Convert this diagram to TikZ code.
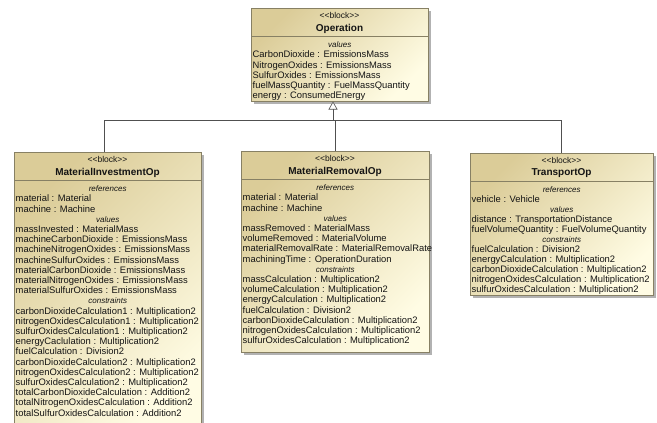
\documentclass[tikz,border=0pt]{standalone}
\usepackage{fontspec}
\setmainfont{Liberation Sans}
\usetikzlibrary{arrows.meta,shadows}
\definecolor{tanc}{RGB}{219,204,152}
\definecolor{creamc}{RGB}{255,252,228}
\definecolor{bord}{RGB}{135,128,100}
\definecolor{shad}{RGB}{170,170,170}
\definecolor{connc}{RGB}{80,80,80}
\definecolor{txt}{RGB}{20,20,20}
\newcommand\cmplbl[2]{\makebox[#1][c]{\fontsize{8}{10.2}\selectfont\itshape #2}}
\newcommand\blkhead[2]{%
  \node[stereo] (#1s) at ([yshift=-7.5pt]#1.north) {<{}<block>{}>};
  \node[bname] (#1n) at ([yshift=-20.5pt]#1.north) {#2};
  \draw[sepline] ([yshift=-28.5pt]#1.north west) -- ([yshift=-28.5pt]#1.north east);}
\begin{document}
\begin{tikzpicture}[x=1pt,y=-1pt,
  blk/.style={draw=bord, line width=0.6pt, inner sep=0pt, outer sep=0pt, anchor=north west,
    top color=tanc, bottom color=creamc, shading angle=45,
    drop shadow={shadow xshift=2.5pt, shadow yshift=-2.5pt, fill=shad, opacity=0.9}},
  stereo/.style={font=\fontsize{8.5}{10}\selectfont, text=txt, inner sep=0pt},
  bname/.style={font=\fontsize{10}{12}\selectfont\bfseries, text=txt, inner sep=0pt},
  body/.style={font=\fontsize{9.4}{10.2}\selectfont, text=txt, align=left, inner sep=0pt, anchor=north west},
  sepline/.style={draw=bord, line width=0.6pt},
  conn/.style={draw=connc, line width=0.6pt},
  gen/.style={conn, -{Triangle[length=8pt,width=9pt,fill=white]}},
]
\useasboundingbox (0,0) rectangle (657,423);
\fill[white] (0,0) rectangle (657,423);

% Operation
\node[blk, minimum width=177pt, minimum height=93.5pt] (op) at (251,8) {};
\blkhead{op}{Operation}
\node[body] (opb) at ([xshift=1.5pt,yshift=-32.3pt]op.north west) {\strut\cmplbl{174pt}{values}\\
CarbonDioxide : EmissionsMass\\
NitrogenOxides : EmissionsMass\\
SulfurOxides : EmissionsMass\\
fuelMassQuantity : FuelMassQuantity\\
energy : ConsumedEnergy};

% MaterialInvestmentOp
\node[blk, minimum width=187pt, minimum height=280pt] (mio) at (14,152) {};
\blkhead{mio}{MaterialInvestmentOp}
\node[body] (miob) at ([xshift=1.5pt,yshift=-32.3pt]mio.north west) {\strut\cmplbl{184pt}{references}\\
material : Material\\
machine : Machine\\
\cmplbl{184pt}{values}\\
massInvested : MaterialMass\\
machineCarbonDioxide : EmissionsMass\\
machineNitrogenOxides : EmissionsMass\\
machineSulfurOxides : EmissionsMass\\
materialCarbonDioxide : EmissionsMass\\
materialNitrogenOxides : EmissionsMass\\
materialSulfurOxides : EmissionsMass\\
\cmplbl{184pt}{constraints}\\
carbonDioxideCalculation1 : Multiplication2\\
nitrogenOxidesCalculation1 : Multiplication2\\
sulfurOxidesCalculation1 : Multiplication2\\
energyCaclulation : Multiplication2\\
fuelCalculation : Division2\\
carbonDioxideCalculation2 : Multiplication2\\
nitrogenOxidesCalculation2 : Multiplication2\\
sulfurOxidesCalculation2 : Multiplication2\\
totalCarbonDioxideCalculation : Addition2\\
totalNitrogenOxidesCalculation : Addition2\\
totalSulfurOxidesCalculation : Addition2};

% MaterialRemovalOp
\node[blk, minimum width=188pt, minimum height=201pt] (mro) at (241,151) {};
\blkhead{mro}{MaterialRemovalOp}
\node[body] (mrob) at ([xshift=1.5pt,yshift=-32.3pt]mro.north west) {\strut\cmplbl{185pt}{references}\\
material : Material\\
machine : Machine\\
\cmplbl{185pt}{values}\\
massRemoved : MaterialMass\\
volumeRemoved : MaterialVolume\\
materialRemovalRate : MaterialRemovalRate\\
machiningTime : OperationDuration\\
\cmplbl{185pt}{constraints}\\
massCalculation : Multiplication2\\
volumeCalculation : Multiplication2\\
energyCalculation : Multiplication2\\
fuelCalculation : Division2\\
carbonDioxideCalculation : Multiplication2\\
nitrogenOxidesCalculation : Multiplication2\\
sulfurOxidesCalculation : Multiplication2};

% TransportOp
\node[blk, minimum width=183pt, minimum height=142pt] (trp) at (470,153) {};
\blkhead{trp}{TransportOp}
\node[body, font=\fontsize{9.4}{10}\selectfont] (trpb) at ([xshift=1.5pt,yshift=-32.3pt]trp.north west) {\strut\cmplbl{180pt}{references}\\
vehicle : Vehicle\\
\cmplbl{180pt}{values}\\
distance : TransportationDistance\\
fuelVolumeQuantity : FuelVolumeQuantity\\
\cmplbl{180pt}{constraints}\\
fuelCalculation : Division2\\
energyCalculation : Multiplication2\\
carbonDioxideCalculation : Multiplication2\\
nitrogenOxidesCalculation : Multiplication2\\
sulfurOxidesCalculation : Multiplication2};

% generalization connectors
\coordinate (bj) at (333,120.5);
\draw[conn] ([xshift=-3.5pt]mio.north) |- (trp.north |- bj) -- (trp.north);
\draw[conn] (mro.north) -- (mro.north |- bj);
\draw[gen] (bj) -- (bj |- op.south);
\end{tikzpicture}
\end{document}
